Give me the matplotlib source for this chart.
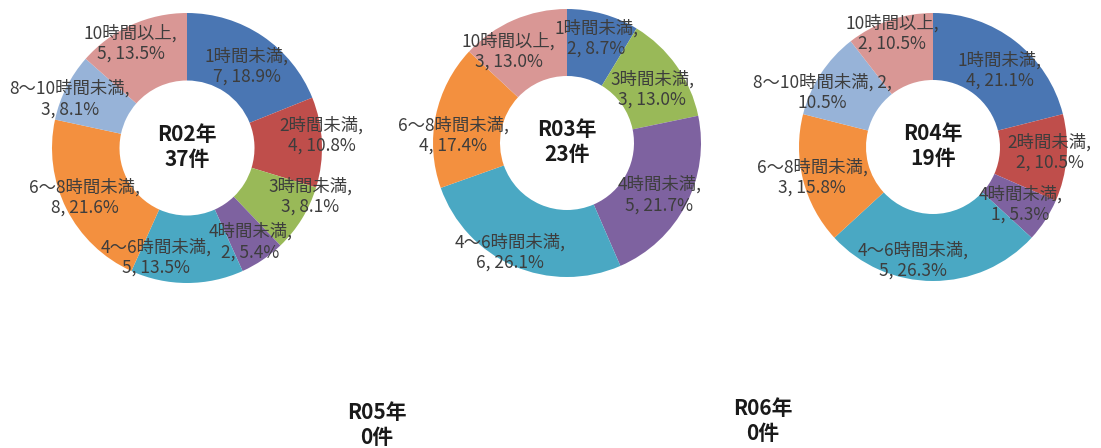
import matplotlib.pyplot as plt
import numpy as np

plt.rcParams["font.family"] = ["Noto Sans CJK JP", "DejaVu Sans"]

categories = ["1時間未満", "2時間未満", "3時間未満", "4時間未満",
              "4～6時間未満", "6～8時間未満", "8～10時間未満", "10時間以上"]
colors = ["#4A76B3", "#BF4E4B", "#99B958", "#7E62A0",
          "#4AA8C3", "#F3903F", "#97B3D8", "#D99795"]

years = ["R02年", "R03年", "R04年", "R05年", "R06年"]
r02 = [7, 4, 3, 2, 5, 8, 3, 5]
r03 = [2, 0, 3, 5, 6, 4, 0, 3]
r04 = [4, 2, 0, 1, 5, 3, 2, 2]
r05 = [0, 0, 0, 0, 0, 0, 0, 0]
r06 = [0, 0, 0, 0, 0, 0, 0, 0]
counts = [r02, r03, r04, r05, r06]

W, H = 1101, 448
# donut centre (px) and radius (px)
boxes = [(187, 148, 135), (567, 143, 134), (933, 147, 134),
         (377, 426, 134), (763, 422, 134)]

# label placement per non-empty slice: radius and angle nudge (deg)
label_r = [
    [0.75, 1.0, 0.98, 0.84, 0.84, 0.84, 0.94, 0.88],
    [0.81, 0.75, 0.79, 0.92, 0.85, 0.81],
    [0.76, 0.87, 0.78, 0.86, 0.93, 0.92, 0.90],
    [], [],
]
label_da = [
    [2, -3, -10, 0, 16, 1, -4, -4],
    [0, 3, 2, 4, -8, -9],
    [3, -2, 0, 10, 0, -7, -1],
    [], [],
]

fig = plt.figure(figsize=(W / 100, H / 100), dpi=100)

for k, (year, vals, (cx, cy, r)) in enumerate(zip(years, counts, boxes)):
    ax = fig.add_axes([(cx - r) / W, (H - cy - r) / H, 2 * r / W, 2 * r / H])
    total = sum(vals)
    if total > 0:
        ax.pie(vals, colors=colors, startangle=90, counterclock=False, radius=1,
               wedgeprops=dict(width=0.5, edgecolor="none"))
    ax.set_xlim(-1, 1)
    ax.set_ylim(-1, 1)
    ax.set_aspect("equal")
    ax.axis("off")
    ax.text(0, 0.01, f"{year}\n{total}件", ha="center", va="center",
            fontsize=15, fontweight="bold", color="#1a1a1a", linespacing=1.25)
    if total == 0:
        continue
    start = 0
    j = 0
    for cat, v in zip(categories, vals):
        if v == 0:
            continue
        frac = v / total
        mid = (start + frac / 2) * 360 + label_da[k][j]
        start += frac
        rr = label_r[k][j]
        j += 1
        x, y = rr * np.sin(np.radians(mid)), rr * np.cos(np.radians(mid))
        pct = f"{100 * frac:.1f}%"
        if cat == "8～10時間未満" and year == "R04年":
            label = f"{cat}, {v},\n{pct}"
        else:
            label = f"{cat},\n{v}, {pct}"
        ax.text(x, y, label, ha="center", va="center", fontsize=12.5,
                color="#3d3d3d", linespacing=1.15)

fig.savefig("out.png", dpi=100)
